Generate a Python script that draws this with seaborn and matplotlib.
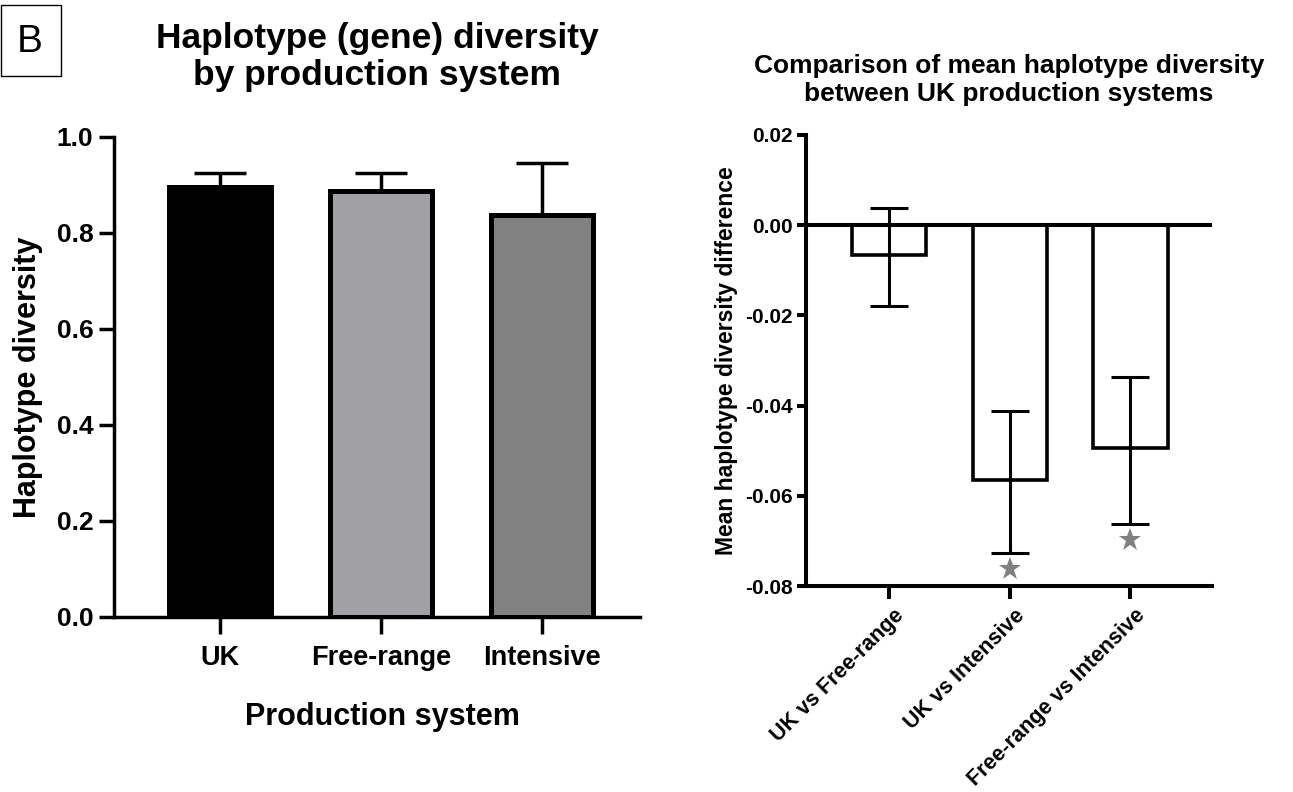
import numpy as np
import matplotlib
matplotlib.use("Agg")
import matplotlib.pyplot as plt
import matplotlib.transforms as mtransforms
from matplotlib.patches import Rectangle
import seaborn as sns

# ---- data -------------------------------------------------------------
systems = ["UK", "Free-range", "Intensive"]
diversity = [0.895, 0.888, 0.838]
diversity_upper = [0.926, 0.926, 0.946]
system_colors = ["#000000", "#a1a0a5", "#818181"]

comparisons = ["UK vs Free-range", "UK vs Intensive", "Free-range vs Intensive"]
mean_diff = [-0.0065, -0.0565, -0.0494]
ci_low = [-0.0179, -0.0726, -0.0663]
ci_high = [0.0038, -0.0412, -0.0336]
significant = [False, True, True]

left_yticks = [0.0, 0.2, 0.4, 0.6, 0.8, 1.0]
right_yticks = [-0.08, -0.06, -0.04, -0.02, 0.00, 0.02]

# ---- style ------------------------------------------------------------
sns.set_style("ticks")
plt.rcParams["font.family"] = ["Liberation Sans", "DejaVu Sans"]
plt.rcParams["font.weight"] = "bold"
plt.rcParams["axes.unicode_minus"] = False
for key in ["text.color", "axes.labelcolor", "xtick.color", "ytick.color",
            "axes.edgecolor"]:
    plt.rcParams[key] = "black"

W, H = 1293, 792
fig = plt.figure(figsize=(W / 100, H / 100), dpi=100)


def px_axes(x0, x1, ytop, ybot):
    return fig.add_axes([x0 / W, 1 - ybot / H, (x1 - x0) / W, (ybot - ytop) / H])


# ---- left panel: diversity per system ---------------------------------
ax1 = px_axes(114, 640, 137, 617)
sns.barplot(x=systems, y=diversity, hue=systems, palette=system_colors,
            legend=False, width=0.634, saturation=1, edgecolor="black",
            linewidth=3.6, ax=ax1, zorder=2)
xpos = np.arange(len(systems))
up = np.array(diversity_upper) - np.array(diversity)
ax1.errorbar(xpos, diversity, yerr=[np.zeros_like(up), up], fmt="none",
             ecolor="black", elinewidth=2.5, capsize=19, capthick=2.5, zorder=1)
ax1.set_ylim(0, 1.0)
ax1.set_xlim(-0.658, 2.61)
ax1.set_yticks(left_yticks)
ax1.set_yticklabels([f"{v:.1f}" for v in left_yticks])
for s in ["top", "right"]:
    ax1.spines[s].set_visible(False)
for s in ["left", "bottom"]:
    ax1.spines[s].set_linewidth(2.5)
ax1.tick_params(axis="y", length=10.8, width=2.5, labelsize=19, pad=4)
ax1.tick_params(axis="x", length=12, width=2.5, labelsize=19.5, pad=8)
for lab in ax1.get_xticklabels() + ax1.get_yticklabels():
    lab.set_fontweight("bold")
ax1.set_xlabel("Production system", fontsize=22, fontweight="bold")
ax1.xaxis.set_label_coords(0.51, -0.177)
ax1.set_ylabel("Haplotype diversity", fontsize=22, fontweight="bold")
ax1.yaxis.set_label_coords(-0.135, 0.5)
fig.text(377 / W, 1 - 22 / H, "Haplotype (gene) diversity\nby production system",
         ha="center", va="top", fontsize=25.5, fontweight="bold", linespacing=1.15)

# ---- right panel: pairwise differences --------------------------------
ax2 = px_axes(806, 1212, 135, 586)
sns.barplot(x=comparisons, y=mean_diff, color="white", width=0.615,
            saturation=1, edgecolor="black", linewidth=2.6, ax=ax2, zorder=2)
cpos = np.arange(len(comparisons))
lo = np.array(mean_diff) - np.array(ci_low)
hi = np.array(ci_high) - np.array(mean_diff)
ax2.errorbar(cpos, mean_diff, yerr=[lo, hi], fmt="none", ecolor="black",
             elinewidth=2.2, capsize=14, capthick=2.2, zorder=3)
ax2.axhline(0, color="black", linewidth=2.9, zorder=4)
star_x = [p for p, sig in zip(cpos, significant) if sig]
star_y = [l - 0.0036 for l, sig in zip(ci_low, significant) if sig]
ax2.plot(star_x, star_y, linestyle="none", marker="*", markersize=17,
         color="#808080", markeredgewidth=0, zorder=5)
ax2.set_ylim(-0.08, 0.02)
ax2.set_xlim(-0.69, 2.676)
ax2.set_yticks(right_yticks)
ax2.set_yticklabels([f"{v:.2f}" for v in right_yticks])
for s in ["top", "right"]:
    ax2.spines[s].set_visible(False)
for s in ["left", "bottom"]:
    ax2.spines[s].set_linewidth(2.9)
ax2.tick_params(axis="y", length=6.5, width=2.9, labelsize=15, pad=3)
ax2.tick_params(axis="x", length=9, width=2.9, labelsize=15.5, pad=10)
for lab in ax2.get_yticklabels():
    lab.set_fontweight("bold")
shift = mtransforms.ScaledTranslation(12 / 100, 0, fig.dpi_scale_trans)
for lab in ax2.get_xticklabels():
    lab.set_rotation(45)
    lab.set_ha("right")
    lab.set_va("center")
    lab.set_rotation_mode("anchor")
    lab.set_fontweight("bold")
    lab.set_transform(lab.get_transform() + shift)
ax2.set_xlabel("")
ax2.set_ylabel("Mean haplotype diversity difference", fontsize=16.5,
               fontweight="bold")
ax2.yaxis.set_label_coords(-0.168, 0.5)
fig.text(1009 / W, 1 - 54 / H,
         "Comparison of mean haplotype diversity\nbetween UK production systems",
         ha="center", va="top", fontsize=19, fontweight="bold", linespacing=1.2)

# ---- panel letter -------------------------------------------------------
fig.patches.append(Rectangle((0.5 / W, 1 - 76 / H), 60.5 / W, 71 / H,
                             transform=fig.transFigure, fill=False,
                             edgecolor="black", linewidth=1.0))
fig.text(30 / W, 1 - 42 / H, "B", ha="center", va="center", fontsize=28,
         fontweight="normal")

fig.savefig("out.png", dpi=100, facecolor="white")
